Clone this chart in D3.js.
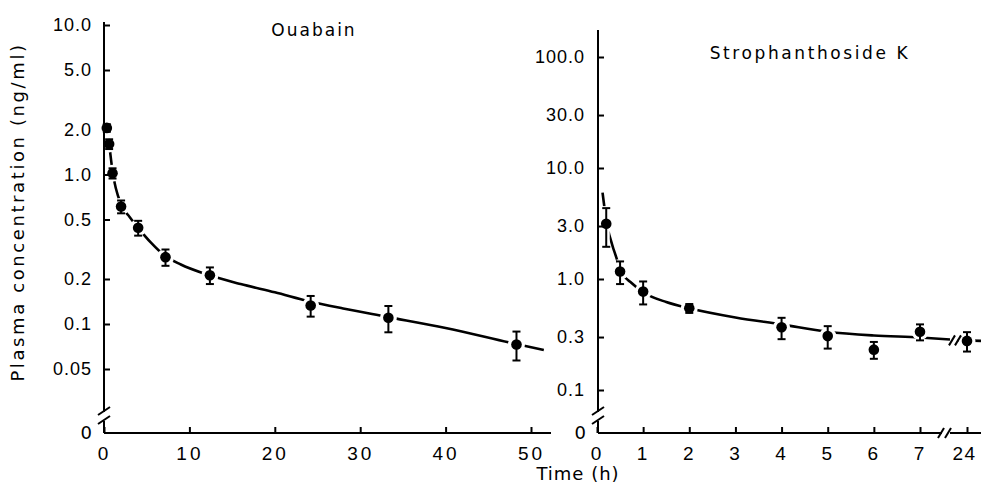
<!DOCTYPE html>
<html>
<head>
<meta charset="utf-8">
<script src="https://cdn.jsdelivr.net/npm/d3@7"></script>
<style>
  body { margin: 0; background: #fff; }
  svg { display: block; font-family: "DejaVu Sans", sans-serif; }
  .tick line { stroke: #000; stroke-width: 2; }
  .tick text { fill: #000; }
</style>
</head>
<body>
<div id="chart"></div>
<script>
// --- data ---
// Ouabain (left panel)
const ouabainTime = [0.33, 0.6, 1, 2, 4, 7.2, 12.4, 24.2, 33.3, 48.3];
const ouabainConc = [2.05, 1.6, 1.02, 0.61, 0.44, 0.28, 0.212, 0.133, 0.110, 0.073];
const ouabainSE   = [0.12, 0.12, 0.08, 0.06, 0.05, 0.035, 0.027, 0.021, 0.022, 0.016];
const ouabainFitTime = [0.3, 0.6, 1, 2, 3, 4, 5.5, 7, 9, 12, 16, 20, 24, 28, 33, 40, 48, 51.5];
const ouabainFitConc = [2.15, 1.6, 1.05, 0.63, 0.52, 0.44, 0.35, 0.29, 0.25, 0.215, 0.185, 0.163, 0.142, 0.127, 0.112, 0.094, 0.074, 0.067];
const ouabainYTicks = [0.05, 0.1, 0.2, 0.5, 1, 2, 5, 10];
const ouabainYLabels = ["0.05", "0.1", "0.2", "0.5", "1.0", "2.0", "5.0", "10.0"];
const ouabainXTicks = [0, 10, 20, 30, 40, 50];

// Strophanthoside K (right panel)
const strophTime = [0.2, 0.5, 1, 2, 4, 5, 6, 7];
const strophConc = [3.15, 1.17, 0.77, 0.545, 0.367, 0.306, 0.231, 0.335];
const strophSE   = [1.2, 0.27, 0.18, 0.05, 0.08, 0.07, 0.04, 0.055];
const strophFitTime = [0.12, 0.2, 0.4, 0.55, 0.75, 1, 1.5, 2, 3, 4, 5, 6, 7, 7.65];
const strophFitConc = [6.0, 3.4, 1.65, 1.12, 0.92, 0.76, 0.62, 0.545, 0.45, 0.39, 0.335, 0.31, 0.297, 0.285];
const strophLateTime = [24];
const strophLateConc = [0.277];
const strophLateSE   = [0.055];
const strophLateFitTime = [23.8, 24.4];
const strophLateFitConc = [0.281, 0.276];
const strophYTicks = [0.1, 0.3, 1, 3, 10, 30, 100];
const strophYLabels = ["0.1", "0.3", "1.0", "3.0", "10.0", "30.0", "100.0"];
const strophXTicks = [0, 1, 2, 3, 4, 5, 6, 7];
const strophLateXTicks = [24];

const W = 981, H = 490;
const svg = d3.select("#chart").append("svg")
  .attr("width", W).attr("height", H)
  .attr("viewBox", "0 0 " + W + " " + H);

const baseY = 433;

// scales
const xLeft = d3.scaleLinear().domain([0, 50]).range([104, 531]);
const yLeft = d3.scaleLog().domain([0.1, 10]).range([324, 25]);
const xRight = d3.scaleLinear().domain([0, 7]).range([597, 920]);
const xRight24 = d3.scaleLinear().domain([24, 25]).range([967, 1013]);
const yRight = d3.scaleLog().domain([0.1, 100]).range([390, 57]);

function zip(t, c, s) {
  return t.map((d, i) => ({ t: d, c: c[i], s: s ? s[i] : 0 }));
}

function drawCurve(g, x, y, t, c) {
  const line = d3.line()
    .x(d => x(d.t))
    .y(d => y(d.c))
    .curve(d3.curveMonotoneX);
  g.append("path")
    .datum(zip(t, c))
    .attr("d", line)
    .attr("fill", "none")
    .attr("stroke", "#000")
    .attr("stroke-width", 2.6);
}

function drawPoints(g, x, y, t, c, s) {
  const data = zip(t, c, s);
  const halo = g.append("g");
  const marks = g.append("g");
  data.forEach(d => {
    const cx = x(d.t), cy = y(d.c);
    const hi = y(d.c + d.s), lo = y(Math.max(d.c - d.s, 1e-3));
    halo.append("line").attr("x1", cx).attr("x2", cx).attr("y1", hi - 2).attr("y2", lo + 2)
      .attr("stroke", "#fff").attr("stroke-width", 7);
    halo.append("circle").attr("cx", cx).attr("cy", cy).attr("r", 8.5).attr("fill", "#fff");
    marks.append("line").attr("x1", cx).attr("x2", cx).attr("y1", hi).attr("y2", lo)
      .attr("stroke", "#000").attr("stroke-width", 2);
    [hi, lo].forEach(yy => {
      marks.append("line").attr("x1", cx - 4).attr("x2", cx + 4).attr("y1", yy).attr("y2", yy)
        .attr("stroke", "#000").attr("stroke-width", 2);
    });
    marks.append("circle").attr("cx", cx).attr("cy", cy).attr("r", 5.3).attr("fill", "#000");
  });
}

function yBreak(g, x0, top) {
  // vertical axis with a break just above zero
  g.append("line").attr("x1", x0).attr("x2", x0).attr("y1", top).attr("y2", 412)
    .attr("stroke", "#000").attr("stroke-width", 2);
  g.append("line").attr("x1", x0).attr("x2", x0).attr("y1", 421).attr("y2", baseY)
    .attr("stroke", "#000").attr("stroke-width", 2);
  [411, 420].forEach(yy => {
    g.append("line").attr("x1", x0 - 6).attr("x2", x0 + 6).attr("y1", yy + 4).attr("y2", yy - 4)
      .attr("stroke", "#000").attr("stroke-width", 2);
  });
  g.append("text").attr("x", x0 - 12).attr("y", baseY).attr("dy", "0.35em")
    .attr("text-anchor", "end").attr("font-size", 18).text("0");
}

function styleYAxis(sel) {
  sel.select(".domain").remove();
  sel.selectAll("text").attr("font-size", 18).attr("letter-spacing", 1);
}
function styleXAxis(sel) {
  sel.select(".domain").remove();
  sel.selectAll("text").attr("font-size", 19).attr("letter-spacing", 3);
}

// ---------- left panel ----------
const left = svg.append("g");
drawCurve(left, xLeft, yLeft, ouabainFitTime, ouabainFitConc);
drawPoints(left, xLeft, yLeft, ouabainTime, ouabainConc, ouabainSE);

left.append("g")
  .attr("transform", "translate(104,0)")
  .call(d3.axisLeft(yLeft).tickValues(ouabainYTicks)
    .tickFormat((d, i) => ouabainYLabels[i]).tickSizeInner(-6).tickSizeOuter(0).tickPadding(12))
  .call(styleYAxis);
left.append("g")
  .attr("transform", "translate(0," + baseY + ")")
  .call(d3.axisBottom(xLeft).tickValues(ouabainXTicks).tickFormat(d3.format("d"))
    .tickSizeInner(-6).tickSizeOuter(0).tickPadding(14))
  .call(styleXAxis);
yBreak(left, 104, 22);
left.append("line").attr("x1", 104).attr("x2", 551).attr("y1", baseY).attr("y2", baseY)
  .attr("stroke", "#000").attr("stroke-width", 2);

left.append("text").attr("x", 314).attr("y", 36).attr("text-anchor", "middle")
  .attr("font-size", 17).attr("letter-spacing", 2).text("Ouabain");

svg.append("text")
  .attr("transform", "translate(24,212) rotate(-90)")
  .attr("text-anchor", "middle").attr("font-size", 18).attr("letter-spacing", 2.6)
  .text("Plasma  concentration  (ng/ml)");

// ---------- right panel ----------
const right = svg.append("g");
drawCurve(right, xRight, yRight, strophFitTime, strophFitConc);
drawCurve(right, xRight24, yRight, strophLateFitTime, strophLateFitConc);
drawPoints(right, xRight, yRight, strophTime, strophConc, strophSE);
drawPoints(right, xRight24, yRight, strophLateTime, strophLateConc, strophLateSE);

// break marks on the curve
[952, 958].forEach(xx => {
  right.append("line").attr("x1", xx - 3).attr("x2", xx + 3).attr("y1", yRight(0.28) + 5).attr("y2", yRight(0.28) - 5)
    .attr("stroke", "#000").attr("stroke-width", 2);
});

right.append("g")
  .attr("transform", "translate(598,0)")
  .call(d3.axisLeft(yRight).tickValues(strophYTicks)
    .tickFormat((d, i) => strophYLabels[i]).tickSizeInner(-6).tickSizeOuter(0).tickPadding(13))
  .call(styleYAxis);
right.append("g")
  .attr("transform", "translate(0," + baseY + ")")
  .call(d3.axisBottom(xRight).tickValues(strophXTicks).tickFormat(d3.format("d"))
    .tickSizeInner(-6).tickSizeOuter(0).tickPadding(14))
  .call(styleXAxis);
right.append("g")
  .attr("transform", "translate(0," + baseY + ")")
  .call(d3.axisBottom(xRight24).tickValues(strophLateXTicks).tickFormat(d3.format("d"))
    .tickSizeInner(-6).tickSizeOuter(0).tickPadding(14))
  .call(styleXAxis)
  .call(g => g.selectAll("text").attr("letter-spacing", 1.5).attr("dx", -3));
yBreak(right, 598, 30);
right.append("line").attr("x1", 598).attr("x2", 942).attr("y1", baseY).attr("y2", baseY)
  .attr("stroke", "#000").attr("stroke-width", 2);
right.append("line").attr("x1", 950).attr("x2", 981).attr("y1", baseY).attr("y2", baseY)
  .attr("stroke", "#000").attr("stroke-width", 2);
[941, 948].forEach(xx => {
  right.append("line").attr("x1", xx - 3).attr("x2", xx + 3).attr("y1", baseY + 5).attr("y2", baseY - 5)
    .attr("stroke", "#000").attr("stroke-width", 2);
});

right.append("text").attr("x", 810).attr("y", 59).attr("text-anchor", "middle")
  .attr("font-size", 17).attr("letter-spacing", 2.6).text("Strophanthoside K");

svg.append("text").attr("x", 578).attr("y", 480).attr("text-anchor", "middle")
  .attr("font-size", 18).attr("letter-spacing", 1).text("Time (h)");
</script>
</body>
</html>
